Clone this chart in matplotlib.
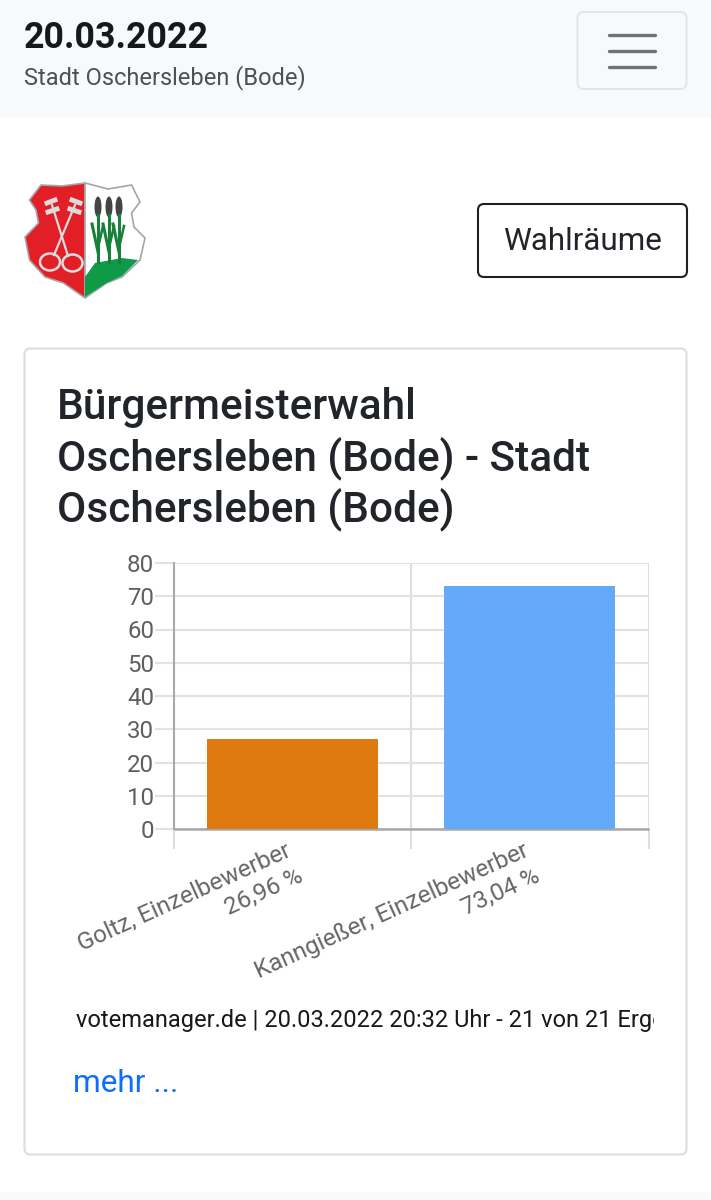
import matplotlib
matplotlib.use("Agg")
import matplotlib.pyplot as plt
from matplotlib.patches import Rectangle, FancyBboxPatch, Polygon, Ellipse
from matplotlib.transforms import ScaledTranslation

candidates = ["Goltz, Einzelbewerber\n26,96 %", "Kanngießer, Einzelbewerber\n73,04 %"]
values = [26.96, 73.04]
colors = ["#df7a10", "#64a9fa"]
yticks = [0, 10, 20, 30, 40, 50, 60, 70, 80]

W, H = 711, 1200
plt.rcParams['font.family'] = ['Roboto', 'DejaVu Sans']
fig = plt.figure(figsize=(W/100, H/100), dpi=100, facecolor='white')
bg = fig.add_axes([0, 0, 1, 1])
bg.set_xlim(0, W); bg.set_ylim(H, 0); bg.axis('off')
px = lambda p: p*0.72

def rbox(x0, y0, x1, y1, r, fc, ec, lw):
    bg.add_patch(FancyBboxPatch((x0+r, y0+r), x1-x0-2*r, y1-y0-2*r,
                                boxstyle=f"round,pad={r},rounding_size={r}", fc=fc, ec=ec, lw=lw))

# header
bg.add_patch(Rectangle((0, 0), W, 116.5, fc='#f8f9fa', ec='none'))
bg.text(24, 37.5, "20.03.2022", fontsize=px(35.7), fontweight='bold', color='#16181b', va='center')
bg.text(24, 77.5, "Stadt Oschersleben (Bode)", fontsize=px(23.6), color='#4d5154', va='center')
rbox(577.5, 12, 686.5, 89, 6, '#f8f9fa', '#e3e4e5', 1.4)
for y in (34.7, 50.5, 66.5):
    bg.plot([609, 655], [y, y], color='#6f7275', lw=2.4, solid_capstyle='round')

# shield logo
left = [(29.5,200),(41,185),(62,186),(85,183),(85,298),(63.5,283),(45,277),(29.5,260),(25,237),(38.5,223),(36,210)]
bg.add_patch(Polygon(left, closed=True, fc='#e21f26', ec='#a5a5a5', lw=1.2))
right = [(85,183),(108,189),(131.5,185),(140,202),(131.5,213),(134,227),(145,238),(140,260),(122,277),(106.5,283),(85,298)]
bg.add_patch(Polygon(right, closed=True, fc='white', ec='#a5a5a5', lw=1.2))
hill = [(85,297),(85,277),(95,263),(122,258),(138,260),(122,276),(106.5,283)]
bg.add_patch(Polygon(hill, closed=True, fc='#0f9a47', ec='none'))
for x in (98, 109, 119):
    bg.plot([x, x], [215, 262], color='#17813a', lw=2.2)
    bg.add_patch(Ellipse((x, 207), 7, 21, fc='#444444', ec='none'))
    bg.plot([x, x-6], [252, 224], color='#17813a', lw=2.2)
    bg.plot([x, x+5], [248, 226], color='#17813a', lw=1.8)
key = '#dcdcdc'
bg.plot([52, 68], [205, 256], color=key, lw=1.6)
bg.plot([75, 54], [205, 255], color=key, lw=1.6)
bg.add_patch(Ellipse((50, 262), 20, 17, fc='none', ec=key, lw=1.8))
bg.add_patch(Ellipse((72.5, 263), 20, 17, fc='none', ec=key, lw=1.8))
bg.plot([47, 55], [203, 200], color=key, lw=3.5)
bg.plot([48, 57], [212, 209], color=key, lw=3.5)
bg.plot([80, 72], [203, 200], color=key, lw=3.5)
bg.plot([79, 70], [212, 209], color=key, lw=3.5)

# button
rbox(478, 204, 687, 277, 6, 'white', '#1d2024', 1.5)
bg.text(582.5, 241.5, "Wahlräume", fontsize=px(31.4), color='#212529', ha='center', va='center')

# card
rbox(24.5, 348.5, 686.5, 1154.5, 6, 'white', '#dfdfdf', 1.6)
for y, t in zip((407, 458, 509), ("Bürgermeisterwahl", "Oschersleben (Bode) - Stadt", "Oschersleben (Bode)")):
    bg.text(57, y, t, fontsize=px(42.4), fontweight='medium', color='#212529', va='center')

# footer text
clip = Rectangle((0, 0), 654, H, transform=bg.transData)
t = bg.text(76, 1020, "votemanager.de | 20.03.2022 20:32 Uhr - 21 von 21 Ergebnissen", fontsize=px(23.65),
            color='#16181b', va='center', clip_on=True)
t.set_clip_path(clip)
bg.text(73, 1083, "mehr ...", fontsize=px(31.6), color='#0d6efd', va='center')
bg.add_patch(Rectangle((0, 1192), W, 8, fc='#f9f9f9', ec='none'))

# chart
x0, x1, ytop, ybot = 173.5, 648.5, 563, 829
ax = fig.add_axes([x0/W, 1-ybot/H, (x1-x0)/W, (ybot-ytop)/H], facecolor='none')
ax.set_xlim(-0.5, 1.5); ax.set_ylim(0, 80)
ax.bar([0, 1], values, width=0.72, color=colors, zorder=3)
ax.set_yticks(yticks)
ax.set_yticklabels([str(v) for v in yticks], fontsize=px(24), color='#5f5f5f')
ax.tick_params(axis='y', length=13.5, width=1.5, color='#e2e2e2', pad=0.5)
ax.grid(axis='y', color='#e2e2e2', lw=1.5, zorder=0)
ax.set_xticks([0, 1])
ax.set_xticklabels(candidates, fontsize=px(24.2), color='#666666', rotation=24.4,
                   ha='right', va='top', multialignment='right', linespacing=1.25)
ax.tick_params(axis='x', length=0, pad=7.5)
off = ScaledTranslation(14/100, 0, fig.dpi_scale_trans)
for lab in ax.get_xticklabels():
    lab.set_transform(lab.get_transform() + off)
ax.set_xticks([-0.5, 0.5, 1.5], minor=True)
ax.tick_params(axis='x', which='minor', length=14.4, width=1.5, color='#dddddd')
for s in ('top', 'right'):
    ax.spines[s].set_visible(False)
for xv in (0.5, 1.5):
    ax.axvline(xv, color='#dddddd', lw=1.5, zorder=1)
ax.spines['left'].set_color('#a8a8a8'); ax.spines['left'].set_linewidth(1.5)
ax.spines['bottom'].set_color('#a8a8a8'); ax.spines['bottom'].set_linewidth(1.8)
ax.spines['bottom'].set_capstyle('butt')
ax.spines['bottom'].set_zorder(2)
ax.xaxis.get_minor_ticks()[0].tick1line.set_color('#a8a8a8')
fig.savefig("out.png", dpi=100)
